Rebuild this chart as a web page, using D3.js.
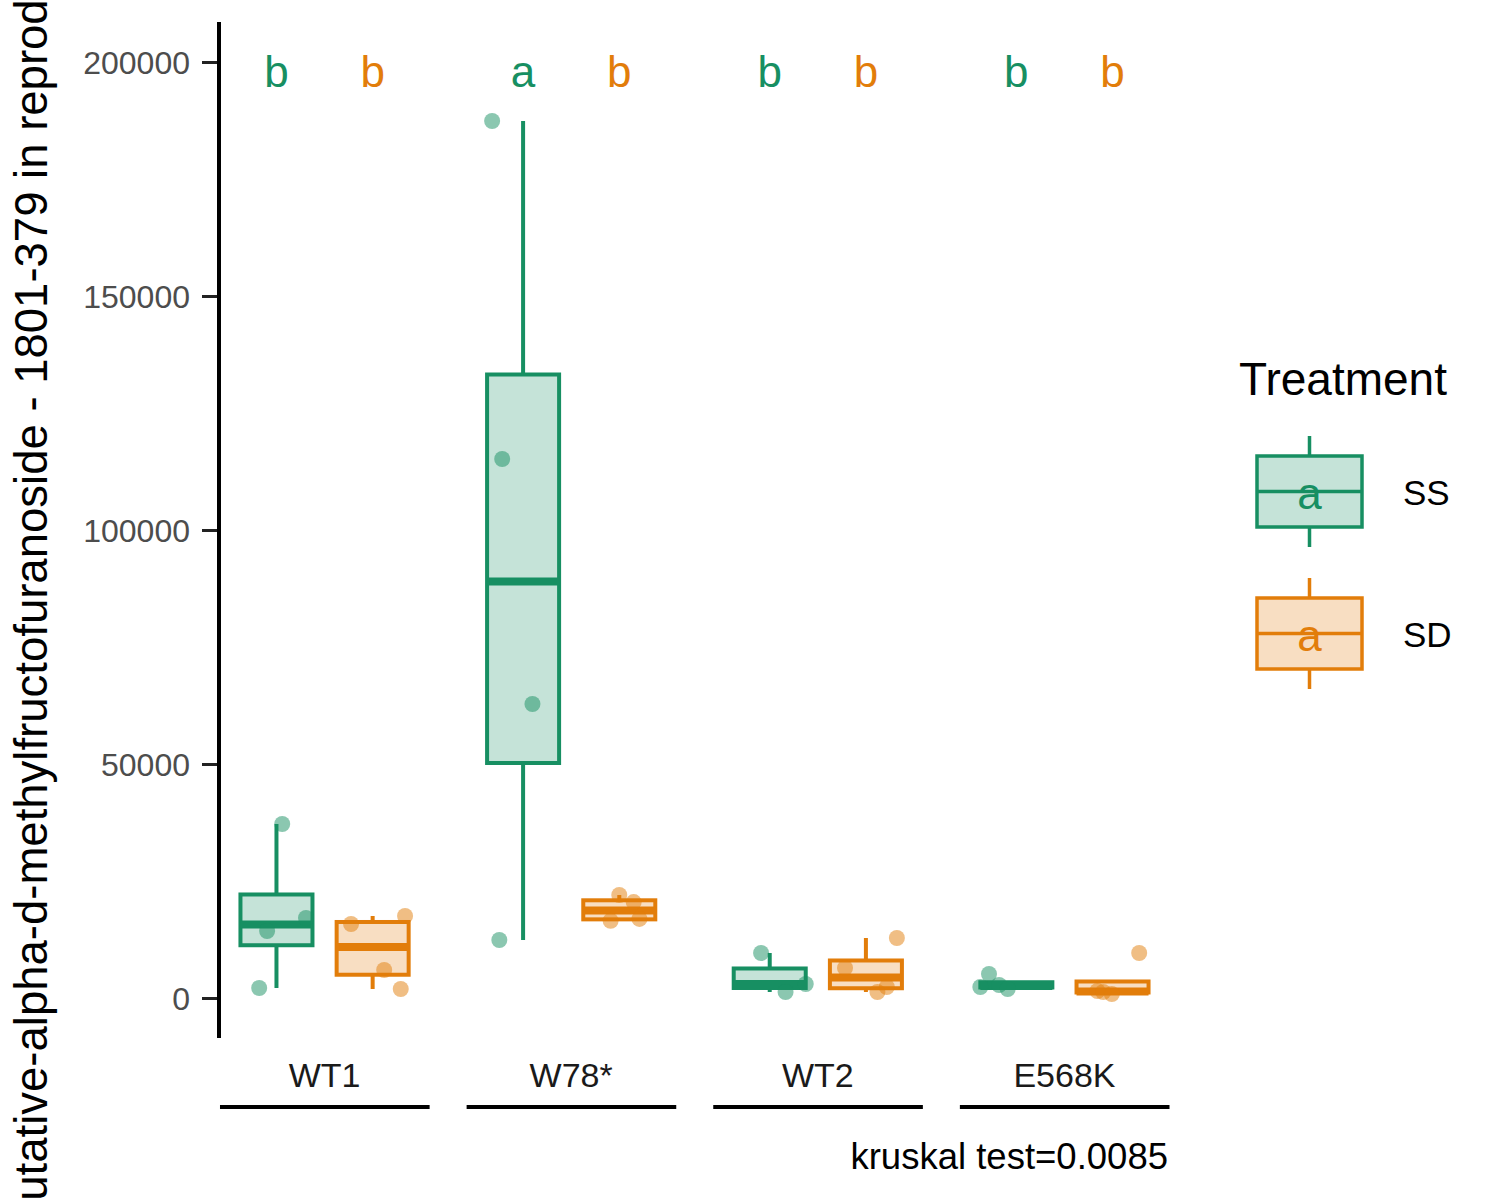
<!DOCTYPE html>
<html>
<head>
<meta charset="utf-8">
<script src="https://cdn.jsdelivr.net/npm/d3@7"></script>
<style>
  html, body { margin: 0; padding: 0; background: #ffffff; }
  svg { display: block; font-family: "Liberation Sans", Arial, Helvetica, sans-serif; }
</style>
</head>
<body>
<svg id="chart" width="1500" height="1200"></svg>
<script>
// ---------------- data ----------------
const categories = ["WT1", "W78*", "WT2", "E568K"];
const treatments = ["SS", "SD"];
const treatmentColors = ["#178F62", "#E27D0A"];

// raw values per category (peak areas)
const ssValues = [
  [37179, 17094, 14316, 2137],
  [187393, 115171, 62821, 12393],
  [9615, 1282, 2991],
  [5128, 2350, 2778, 1923]
];
const sdValues = [
  [15812, 17521, 5983, 1923],
  [22000, 20500, 16500, 16900],
  [6410, 12821, 1282, 2350],
  [9615, 1496, 855, 1282]
];
// horizontal jitter (fraction of box width)
const ssJitter = [
  [0.08, 0.41, -0.13, -0.24],
  [-0.43, -0.29, 0.13, -0.33],
  [-0.12, 0.22, 0.50],
  [-0.38, -0.50, -0.24, -0.12]
];
const sdJitter = [
  [-0.30, 0.45, 0.16, 0.39],
  [0.00, 0.20, -0.12, 0.28],
  [-0.29, 0.43, 0.16, 0.29],
  [0.37, -0.21, -0.01, -0.13]
];
// significance letters
const ssLetters = ["b", "a", "b", "b"];
const sdLetters = ["b", "b", "b", "b"];
const letterY = 194700;

const yTicks = [0, 50000, 100000, 150000, 200000];
const yTitle = "putative-alpha-d-methylfructofuranoside - 1801-379 in reproductive tissue";
const legendTitle = "Treatment";
const legendKeyLetter = "a";
const testLabel = "kruskal test=0.0085";

// ---------------- layout ----------------
const svg = d3.select("#chart");
const panel = { left: 219, right: 1170, top: 22, bottom: 1038 };

const x = d3.scalePoint().domain(categories).range([panel.left, panel.right]).padding(0.428);
const step = x.step();
const dodge = step * 0.195;
const boxW = step * 0.292;
const y = d3.scaleLinear().domain([-8550, 208550]).range([panel.bottom, panel.top]);

const seriesValues = [ssValues, sdValues];
const seriesJitter = [ssJitter, sdJitter];
const seriesLetters = [ssLetters, sdLetters];

function boxStats(vals) {
  const s = vals.slice().sort(d3.ascending);
  const q1 = d3.quantileSorted(s, 0.25);
  const med = d3.quantileSorted(s, 0.5);
  const q3 = d3.quantileSorted(s, 0.75);
  const iqr = q3 - q1;
  const inside = s.filter(v => v >= q1 - 1.5 * iqr && v <= q3 + 1.5 * iqr);
  return { q1, med, q3, lo: d3.min(inside), hi: d3.max(inside) };
}

const boxes = [];
treatments.forEach((t, ti) => {
  categories.forEach((c, ci) => {
    boxes.push({
      cat: c, ti,
      cx: x(c) + (ti === 0 ? -dodge : dodge),
      stats: boxStats(seriesValues[ti][ci]),
      vals: seriesValues[ti][ci],
      jit: seriesJitter[ti][ci],
      letter: seriesLetters[ti][ci]
    });
  });
});

const lw = 4;
const g = svg.append("g");

// boxes
boxes.forEach(b => {
  const col = treatmentColors[b.ti];
  const s = b.stats;
  const bg = g.append("g");
  // whiskers
  bg.append("line").attr("x1", b.cx).attr("x2", b.cx)
    .attr("y1", y(s.q3)).attr("y2", y(Math.max(s.hi, s.q3)))
    .attr("stroke", col).attr("stroke-width", lw);
  bg.append("line").attr("x1", b.cx).attr("x2", b.cx)
    .attr("y1", y(s.q1)).attr("y2", y(Math.min(s.lo, s.q1)))
    .attr("stroke", col).attr("stroke-width", lw);
  // box
  bg.append("rect")
    .attr("x", b.cx - boxW / 2).attr("width", boxW)
    .attr("y", y(s.q3)).attr("height", Math.max(0, y(s.q1) - y(s.q3)))
    .attr("fill", col).attr("fill-opacity", 0.25)
    .attr("stroke", col).attr("stroke-width", lw);
  // median
  bg.append("line")
    .attr("x1", b.cx - boxW / 2).attr("x2", b.cx + boxW / 2)
    .attr("y1", y(s.med)).attr("y2", y(s.med))
    .attr("stroke", col).attr("stroke-width", lw * 2);
  // points
  bg.selectAll("circle").data(b.vals).join("circle")
    .attr("cx", (v, i) => b.cx + b.jit[i] * boxW)
    .attr("cy", v => y(v))
    .attr("r", 8)
    .attr("fill", col).attr("fill-opacity", 0.5);
  // letter
  g.append("text")
    .attr("x", b.cx).attr("y", y(letterY))
    .attr("text-anchor", "middle")
    .attr("font-size", 44)
    .attr("fill", col)
    .text(b.letter);
});

// y axis
const yAxis = d3.axisLeft(y).tickValues(yTicks).tickSize(17).tickPadding(12).tickFormat(d3.format("d"));
const ya = svg.append("g").attr("transform", `translate(${panel.left},0)`).call(yAxis);
ya.select(".domain").remove();
ya.selectAll(".tick line").attr("stroke", "#222").attr("stroke-width", 3);
ya.selectAll(".tick text").attr("font-size", 32).attr("fill", "#4D4D4D")
  .attr("font-family", "Liberation Sans, Arial, sans-serif").attr("dy", "0.35em");
svg.append("line").attr("x1", panel.left).attr("x2", panel.left)
  .attr("y1", panel.top).attr("y2", panel.bottom)
  .attr("stroke", "#000").attr("stroke-width", 4);

// x labels and brackets
const xg = svg.append("g");
categories.forEach(c => {
  xg.append("text").attr("x", x(c)).attr("y", 1087)
    .attr("text-anchor", "middle").attr("font-size", 34).attr("fill", "#1A1A1A").text(c);
  xg.append("line").attr("x1", x(c) - step * 0.424).attr("x2", x(c) + step * 0.426)
    .attr("y1", 1107).attr("y2", 1107).attr("stroke", "#000").attr("stroke-width", 4);
});

// y title (runs off the top and bottom edges, as in the reference)
svg.append("text")
  .attr("transform", `translate(47,1226) rotate(-90)`)
  .attr("text-anchor", "start").attr("font-size", 45.5).attr("fill", "#000")
  .text(yTitle);

// kruskal label
svg.append("text").attr("x", 1168).attr("y", 1169).attr("text-anchor", "end")
  .attr("font-size", 36.5).attr("fill", "#000").text(testLabel);

// legend
const lg = svg.append("g");
lg.append("text").attr("x", 1239).attr("y", 395).attr("font-size", 46).attr("fill", "#000").text(legendTitle);
const keyTop = [456, 598];
treatments.forEach((t, i) => {
  const col = treatmentColors[i];
  const top = keyTop[i], h = 71, left = 1257, w = 105, cx = left + w / 2;
  lg.append("line").attr("x1", cx).attr("x2", cx).attr("y1", top - 20).attr("y2", top + h + 20)
    .attr("stroke", col).attr("stroke-width", 3.5);
  lg.append("rect").attr("x", left).attr("y", top).attr("width", w).attr("height", h)
    .attr("fill", "#fff");
  lg.append("rect").attr("x", left).attr("y", top).attr("width", w).attr("height", h)
    .attr("fill", col).attr("fill-opacity", 0.25).attr("stroke", col).attr("stroke-width", 3.5);
  lg.append("line").attr("x1", left).attr("x2", left + w).attr("y1", top + h / 2).attr("y2", top + h / 2)
    .attr("stroke", col).attr("stroke-width", 3.5);
  lg.append("text").attr("x", cx).attr("y", top + h / 2 + 17).attr("text-anchor", "middle")
    .attr("font-size", 44).attr("fill", col).text(legendKeyLetter);
  lg.append("text").attr("x", 1403).attr("y", top + h / 2 + 13).attr("font-size", 35)
    .attr("fill", "#000").text(t);
});
</script>
</body>
</html>
